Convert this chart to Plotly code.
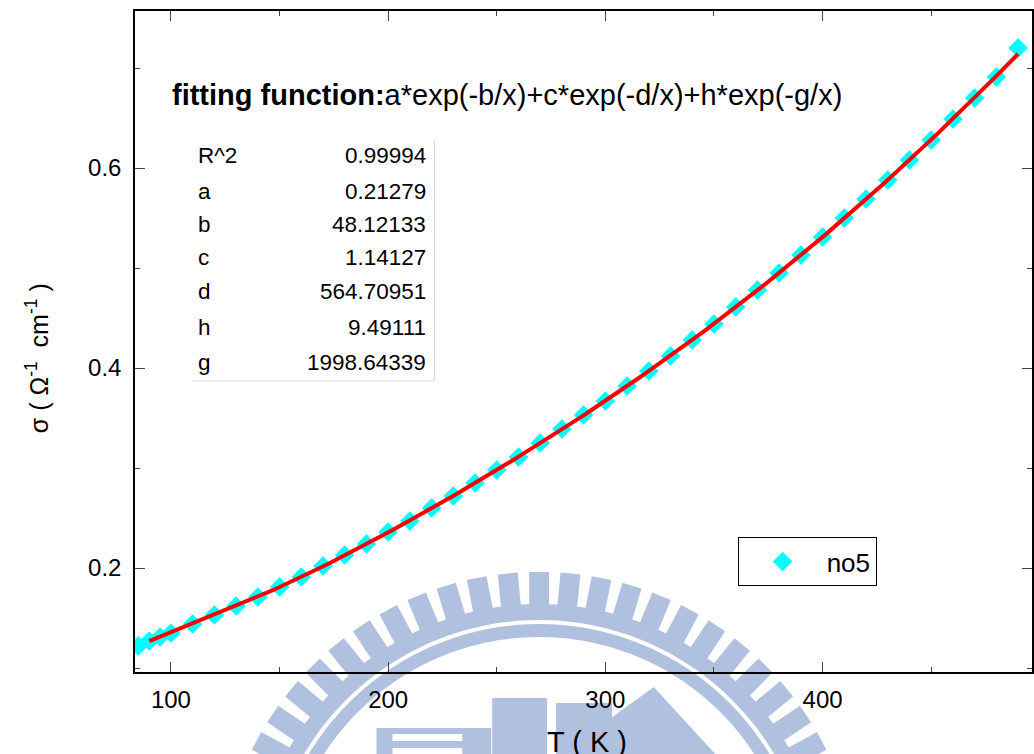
import numpy as np
import plotly.graph_objects as go

# Measured conductivity of sample no5
T_K = [85, 90, 95, 100, 110, 120, 130, 140, 150, 160, 170, 180, 190, 200,
       210, 220, 230, 240, 250, 260, 270, 280, 290, 300, 310, 320, 330, 340,
       350, 360, 370, 380, 390, 400, 410, 420, 430, 440, 450, 460, 470, 480, 490]
sigma = [0.122, 0.127, 0.131, 0.135, 0.144, 0.153, 0.162, 0.171, 0.181, 0.191,
         0.202, 0.213, 0.224, 0.236, 0.247, 0.260, 0.272, 0.285, 0.298, 0.311,
         0.325, 0.339, 0.353, 0.367, 0.382, 0.397, 0.412, 0.428, 0.444, 0.461,
         0.478, 0.495, 0.513, 0.531, 0.550, 0.569, 0.588, 0.608, 0.628, 0.649,
         0.670, 0.691, 0.720]

# Fit parameters
param_names = ["R^2", "a", "b", "c", "d", "h", "g"]
param_text = ["0.99994", "0.21279", "48.12133", "1.14127", "564.70951", "9.49111", "1998.64339"]
a, b, c, d, h, g = 0.21279, 48.12133, 1.14127, 564.70951, 9.49111, 1998.64339
fit_range = [90, 490]

x_ticks = [100, 200, 300, 400]
x_minor = [150, 250, 350, 450]
y_ticks = [0.2, 0.4, 0.6]
y_minor = [0.1, 0.3, 0.5, 0.7]

W, H = 1034, 754
L, R, T, B = 135, 0, 11, 82
PW, PH = W - L - R, H - T - B
FONT = "Liberation Sans, Arial, sans-serif"


def px_x(px):
    return (px - L) / PW


def px_y(py):
    return (H - B - py) / PH


fig = go.Figure()

fig.add_trace(go.Scatter(
    x=T_K, y=sigma, mode="markers", name="no5",
    marker=dict(symbol="diamond", size=15, color="#00FFFF", line=dict(width=0)),
    cliponaxis=True,
))

tf = np.linspace(fit_range[0], fit_range[1], 300)
yf = a * np.exp(-b / tf) + c * np.exp(-d / tf) + h * np.exp(-g / tf)
fig.add_trace(go.Scatter(
    x=tf, y=yf, mode="lines", showlegend=False,
    line=dict(color="#FF0000", width=4),
))

# ---- watermark emblem (gear ring + buildings) ----
WM = "#B0C1DF"
CX, CY = 540, 894
shapes = []


def poly(points, color=WM):
    p = "M " + " L ".join(f"{px_x(x):.5f},{px_y(y):.5f}" for x, y in points) + " Z"
    return dict(type="path", path=p, xref="paper", yref="paper",
                fillcolor=color, line=dict(width=0), layer="below")


def annulus(r_in, r_out, a0=-85, a1=85, n=120):
    angs = np.radians(np.linspace(a0, a1, n))
    outer = [(CX + r_out * np.sin(t), CY - r_out * np.cos(t)) for t in angs]
    inner = [(CX + r_in * np.sin(t), CY - r_in * np.cos(t)) for t in angs[::-1]]
    return poly(outer + inner)


shapes.append(annulus(274, 290))
shapes.append(annulus(257, 270))
for k in range(-15, 16):
    th = np.radians(k * 5.6)
    ux, uy = np.sin(th), -np.cos(th)
    tx, ty = np.cos(th), np.sin(th)
    hw = 10
    pts = []
    for r, s in [(288, -1), (322, -1), (322, 1), (288, 1)]:
        pts.append((CX + r * ux + s * hw * tx, CY + r * uy + s * hw * ty))
    shapes.append(poly(pts))

shapes.append(poly([(377, 728), (492, 728), (492, 760), (377, 760)]))
shapes.append(poly([(393, 734), (463, 734), (463, 741), (393, 741)], "white"))
shapes.append(poly([(393, 748), (463, 748), (463, 760), (393, 760)], "white"))
shapes.append(poly([(493, 698), (548, 698), (548, 760), (493, 760)]))
shapes.append(poly([(557, 703), (613, 703), (613, 760), (557, 760)]))
shapes.append(poly([(605, 723), (655, 687), (722, 760), (608, 760)]))

# table frame
shapes.append(dict(type="line", xref="paper", yref="paper",
                   x0=px_x(435), x1=px_x(435), y0=px_y(140), y1=px_y(381),
                   line=dict(color="#d4d4d4", width=1)))
shapes.append(dict(type="line", xref="paper", yref="paper",
                   x0=px_x(193), x1=px_x(435), y0=px_y(381), y1=px_y(381),
                   line=dict(color="#d4d4d4", width=1)))

annotations = []
annotations.append(dict(
    text="<b>fitting function:</b>a*exp(-b/x)+c*exp(-d/x)+h*exp(-g/x)",
    xref="paper", yref="paper", x=px_x(170), y=px_y(95),
    xanchor="left", yanchor="middle", showarrow=False,
    font=dict(size=29, color="black", family=FONT)))

row_y = [155, 191, 224, 257, 291, 327, 362]
for name, val, ry in zip(param_names, param_text, row_y):
    annotations.append(dict(text=name, xref="paper", yref="paper",
                            x=px_x(196), y=px_y(ry), xanchor="left", yanchor="middle",
                            showarrow=False, font=dict(size=22.5, color="black", family=FONT)))
    annotations.append(dict(text=val, xref="paper", yref="paper",
                            x=px_x(429), y=px_y(ry), xanchor="right", yanchor="middle",
                            showarrow=False, font=dict(size=22.5, color="black", family=FONT)))

annotations.append(dict(text="T ( K )", xref="paper", yref="paper",
                        x=px_x(588), y=px_y(742), xanchor="center", yanchor="middle",
                        showarrow=False, font=dict(size=29, color="black", family=FONT)))
annotations.append(dict(text="σ ( Ω<sup>-1</sup>  cm<sup>-1</sup> )", xref="paper", yref="paper",
                        x=px_x(37), y=px_y(358), xanchor="center", yanchor="middle",
                        textangle=-90, showarrow=False,
                        font=dict(size=25, color="black", family=FONT)))

axis_common = dict(
    showgrid=False, zeroline=False, showline=True, linecolor="black", linewidth=1.5,
    mirror="ticks", ticks="inside", ticklen=10, tickwidth=1, tickcolor="#444",
    tickfont=dict(size=24, color="black", family=FONT),
)

fig.update_layout(
    width=W, height=H,
    margin=dict(l=L, r=R, t=T, b=B, pad=0),
    paper_bgcolor="white", plot_bgcolor="rgba(0,0,0,0)",
    font=dict(family=FONT, color="black"),
    xaxis=dict(range=[83.46, 496.4], tickvals=x_ticks, ticktext=[str(v) for v in x_ticks],
               minor=dict(tickvals=x_minor, ticks="inside", ticklen=5, tickcolor="#444"),
               ticklabelstandoff=5, **axis_common),
    yaxis=dict(range=[0.096, 0.757], tickvals=y_ticks, ticktext=[f"{v:.1f}" for v in y_ticks],
               minor=dict(tickvals=y_minor, ticks="inside", ticklen=5, tickcolor="#444"),
               ticklabelstandoff=7, **axis_common),
    legend=dict(x=px_x(739), y=px_y(537), xanchor="left", yanchor="top",
                bordercolor="black", borderwidth=1, bgcolor="white",
                font=dict(size=26, color="black", family=FONT), itemwidth=78),
    showlegend=True,
    shapes=shapes,
    annotations=annotations,
)

fig.write_html("out.html")
